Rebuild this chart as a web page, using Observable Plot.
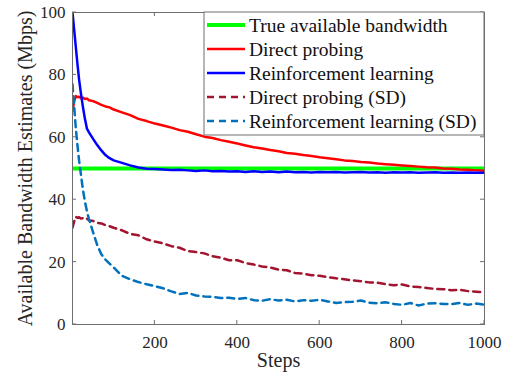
<!DOCTYPE html>
<html><head><meta charset="utf-8">
<script src="https://cdn.jsdelivr.net/npm/d3@7"></script>
<script src="https://cdn.jsdelivr.net/npm/@observablehq/plot@0.6"></script>
<style>
body{margin:0;background:#fff;}
#chart{width:515px;height:381px;}
</style>
</head><body><div id="chart"></div>
<script>
// ---- data ----
const steps = [0,4,8,12,16,20,25,30,35,40,50,60,70,80,90,100,
  120,140,160,180,200,220,240,260,280,300,320,340,360,380,400,420,440,460,480,500,
  520,540,560,580,600,620,640,660,680,700,720,740,760,780,800,820,840,860,880,900,
  920,940,960,980,1000];
const trueSteps = [0, 1000];
const trueBandwidth = [50, 50];
const directProbing = [68.5,71.5,73.2,72.9,73.0,72.6,72.7,72.3,72.4,71.9,71.6,71.0,70.4,69.9,69.6,68.9,
  68.0,67.1,65.9,65.2,64.4,63.8,63.1,62.3,61.8,61.0,60.2,59.8,59.1,58.6,58.0,57.4,56.8,56.4,55.9,55.5,
  55.0,54.7,54.3,54.0,53.6,53.3,53.0,52.6,52.4,52.1,51.9,51.6,51.4,51.2,51.0,50.8,50.6,50.4,50.3,50.0,
  49.9,49.7,49.6,49.4,49.3];
const reinforcementLearning = [100,94.5,89,83.5,78.5,74.5,70,66,62.8,61.6,59.5,57.5,55.8,54.3,53.3,52.6,
  51.8,51.0,50.3,49.9,49.8,49.7,49.5,49.6,49.4,49.2,49.4,49.1,49.2,49.0,49.1,48.9,49.1,48.9,49.0,48.8,
  49.0,48.8,48.9,48.7,48.9,48.8,48.9,48.7,48.8,48.9,48.7,48.8,48.6,48.8,48.7,48.8,48.6,48.7,48.8,48.6,
  48.7,48.6,48.7,48.6,48.6];
const directProbingSD = [31,33,34.5,34.2,34.4,34.0,34.1,33.7,33.9,33.4,33.2,32.6,32.4,31.8,31.5,31.0,
  30.2,29.0,28.6,27.3,26.6,26.0,25.1,24.6,23.5,23.2,22.8,21.9,21.4,20.6,20.6,19.7,19.2,18.6,18.3,17.6,
  17.4,16.5,16.3,15.8,15.6,15.2,14.8,14.5,14.1,13.9,13.5,13.4,12.9,12.6,12.8,12.2,12.0,11.7,11.4,11.3,
  11.0,11.1,10.7,10.5,10.3];
const reinforcementLearningSD = [77,70,63,57.5,52.5,48.5,43.5,39.5,36.3,33.8,29.5,25.5,22.5,20.8,19.5,18.3,
  15.6,14.5,13.6,12.9,12.3,11.6,10.6,9.8,10.1,9.3,9.0,8.9,8.5,8.6,8.2,8.5,7.8,7.6,8.1,7.7,
  7.9,7.4,7.8,7.6,7.9,7.4,6.9,7.2,7.3,7.7,7.0,6.8,7.1,6.6,6.3,6.9,6.1,6.7,6.8,6.6,
  6.5,6.9,6.3,6.7,6.3];
const seriesNames = ["True available bandwidth","Direct probing","Reinforcement learning","Direct probing (SD)","Reinforcement learning (SD)"];
const seriesColors = ["#00ff00","#ff0000","#0000ff","#a2142f","#0072bd"];
const xTicks = [200,400,600,800,1000];
const yTicks = [0,20,40,60,80,100];
const xLabel = "Steps";
const yLabel = "Available Bandwidth Estimates (Mbps)";

// ---- build table ----
const toRows = (xs, ys, name) => xs.map((s, i) => ({step: s, value: ys[i], series: name}));
const rows = [
  toRows(trueSteps, trueBandwidth, seriesNames[0]),
  toRows(steps, directProbing, seriesNames[1]),
  toRows(steps, reinforcementLearning, seriesNames[2]),
  toRows(steps, directProbingSD, seriesNames[3]),
  toRows(steps, reinforcementLearningSD, seriesNames[4])
];
const dashed = [false,false,false,true,true];
const widths = [4,2.5,2.5,2.5,2.5];
const FONT = "'Liberation Serif','Times New Roman',serif";
const frameColor = "#6e6e6e";

const chart = Plot.plot({
  width: 515, height: 381,
  marginLeft: 72, marginRight: 31, marginTop: 12, marginBottom: 57,
  style: {fontFamily: FONT, fontSize: "17px", color: "#262626", background: "#fff"},
  x: {domain: [0, 1000]},
  y: {domain: [0, 100]},
  marks: [
    ...rows.map((r, i) => Plot.line(r, {
      x: "step", y: "value", stroke: seriesColors[i], strokeWidth: widths[i],
      strokeDasharray: dashed[i] ? "7,5" : null, clip: true, strokeLinejoin: "round"
    })),
    Plot.frame({stroke: frameColor, strokeWidth: 1}),
    Plot.axisX(xTicks, {anchor: "bottom", tickSize: 0, tickPadding: 11, fontSize: 17, label: null, tickFormat: d => String(d)}),
    Plot.axisY(yTicks, {anchor: "left", tickSize: 0, tickPadding: 7, fontSize: 17, label: null, tickFormat: d => String(d)}),
    Plot.text([xLabel], {frameAnchor: "bottom", textAnchor: "middle", dy: 42, fontSize: 20, fill: "#262626"}),
    Plot.text([yLabel], {frameAnchor: "left", textAnchor: "middle", dx: -47, rotate: -90, fontSize: 20, fill: "#262626"})
  ]
});
document.getElementById("chart").appendChild(chart);

// inward ticks on all four sides (MATLAB box style) using Plot's scales
const sx = chart.scale("x"), sy = chart.scale("y");
const svg = d3.select(chart);
const L = sx.apply(0), R = sx.apply(1000), T = sy.apply(100), B = sy.apply(0);
const tg = svg.append("g").attr("stroke", frameColor).attr("stroke-width", 1);
xTicks.forEach(v => {
  const px = sx.apply(v);
  tg.append("line").attr("x1", px).attr("x2", px).attr("y1", B).attr("y2", B - 4);
  tg.append("line").attr("x1", px).attr("x2", px).attr("y1", T).attr("y2", T + 4);
});
yTicks.forEach(v => {
  const py = sy.apply(v);
  tg.append("line").attr("x1", L).attr("x2", L + 4).attr("y1", py).attr("y2", py);
  tg.append("line").attr("x1", R).attr("x2", R - 4).attr("y1", py).attr("y2", py);
});

// legend box (top right, inside the axes)
const lx = 204, lw = R - lx, lh = 123;
const lg = svg.append("g");
lg.append("rect").attr("x", lx).attr("y", T).attr("width", lw).attr("height", lh)
  .attr("fill", "#fff").attr("stroke", frameColor).attr("stroke-width", 1);
seriesNames.forEach((name, i) => {
  const y = T + 13 + i * 24;
  lg.append("line").attr("x1", lx + 3).attr("x2", lx + 41).attr("y1", y).attr("y2", y)
    .attr("stroke", seriesColors[i]).attr("stroke-width", widths[i])
    .attr("stroke-dasharray", dashed[i] ? "7,5" : null);
  lg.append("text").attr("x", lx + 45).attr("y", y).attr("dy", "0.35em")
    .attr("text-anchor", "start")
    .attr("font-family", FONT).attr("font-size", 19.5).attr("fill", "#111").text(name);
});
</script>
</body></html>
